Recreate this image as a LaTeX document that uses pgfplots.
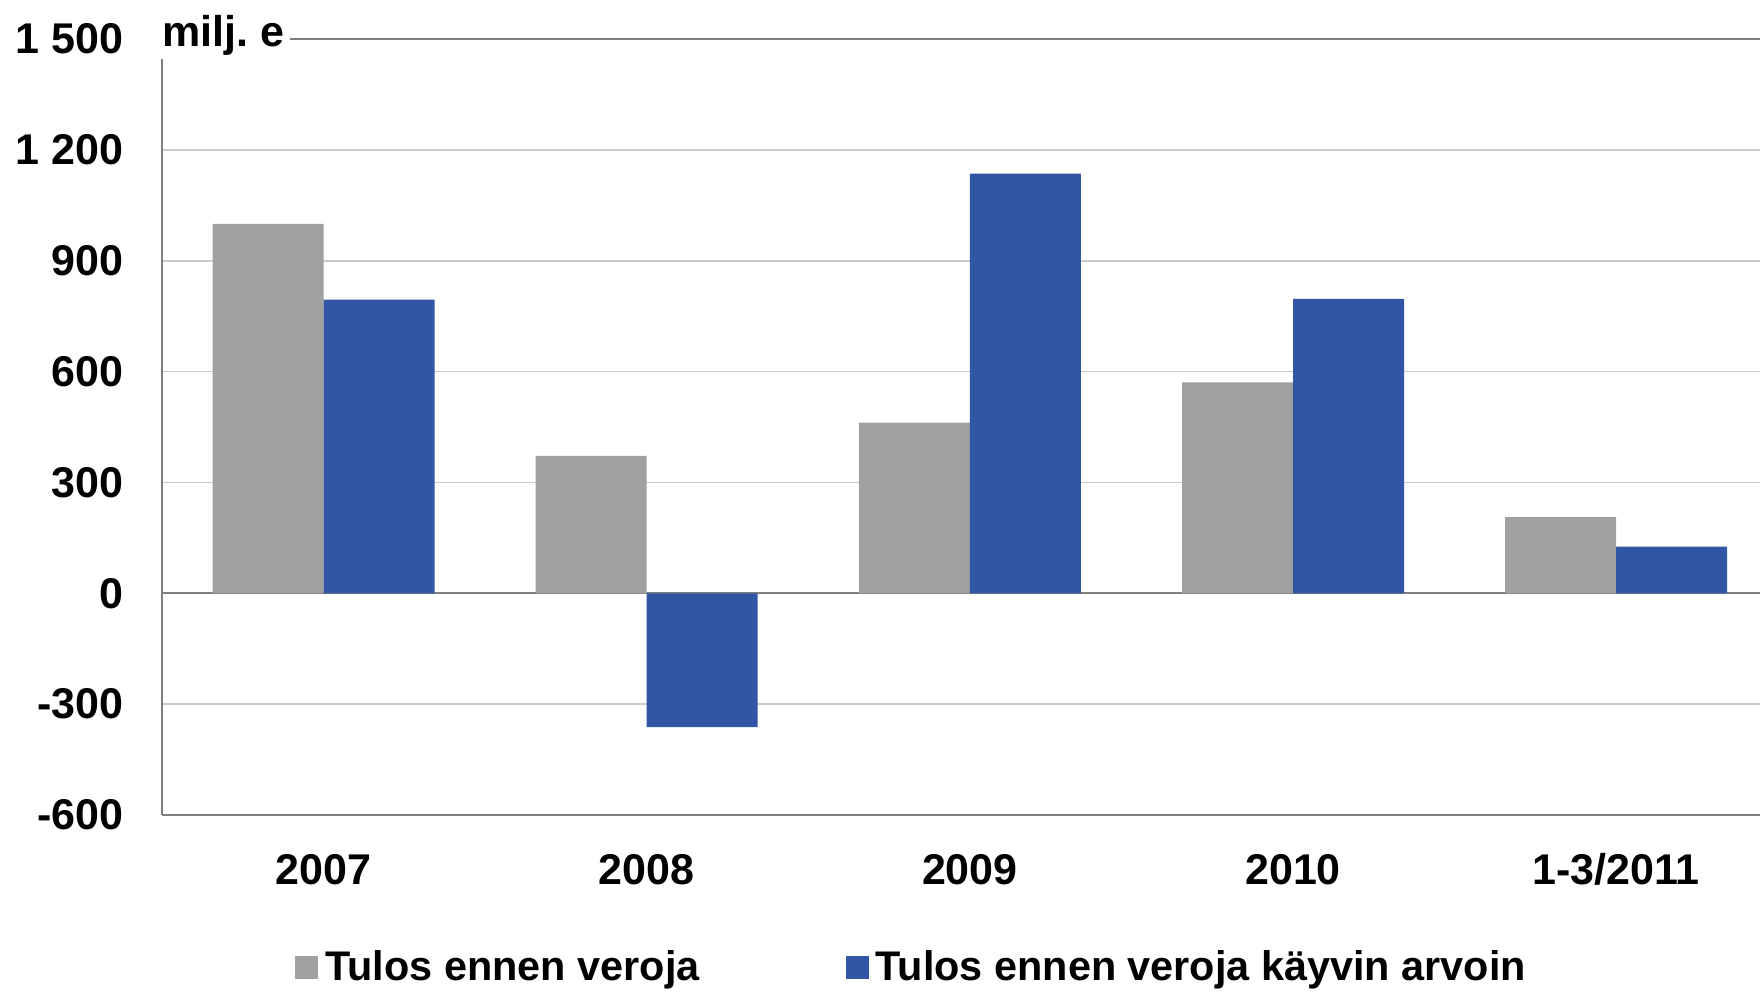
\documentclass[border=0pt]{standalone}
\usepackage{pgfplots}
\pgfplotsset{compat=1.18}
\usepackage{fontspec}
\setmainfont{Liberation Sans}
\definecolor{bargray}{HTML}{A0A0A0}
\definecolor{barblue}{HTML}{3156A5}
\definecolor{gridgray}{HTML}{CACACA}
\definecolor{axisgray}{HTML}{7F7F7F}
\begin{document}
\begin{tikzpicture}
\useasboundingbox (0,0) rectangle (880pt,496pt);
\begin{axis}[
  name=ax,
  at={(81pt,88.5pt)}, anchor=south west,
  scale only axis,
  width=799pt, height=388pt,
  xmin=-0.5, xmax=4.445,
  ymin=-600, ymax=1500,
  ybar=0pt, bar width=55.5pt,
  axis x line=bottom, axis y line=left,
  axis line style={draw=axisgray, line width=1pt, -},
  xtick={0,1,2,3,4},
  xticklabels={2007,2008,2009,2010,1-3/2011},
  ytick={-600,-300,0,300,600,900,1200,1500},
  yticklabels={-600,-300,0,300,600,900,1 200,1 500},
  major tick length=0pt,
  ymajorgrids,
  major grid style={draw=gridgray, line width=0.8pt},
  extra y ticks={0,1500},
  extra y tick labels={,},
  extra y tick style={major grid style={draw=axisgray, line width=1pt}},
  tick label style={font=\bfseries\fontsize{21.5}{25}\selectfont, inner sep=0pt},
  yticklabel style={anchor=east, xshift=-19pt},
  xticklabel style={anchor=base, yshift=-34.5pt},
  legend style={at={(axis description cs:0.0832,-0.196)}, anchor=west,
    draw=none, fill=none, inner sep=0pt, column sep=0pt,
    font=\bfseries\fontsize{20.7}{24}\selectfont,
    nodes={inner sep=0pt, anchor=west},
    /tikz/every odd column/.append style={column sep=3.5pt},
    /tikz/every even column/.append style={column sep=73pt}},
  legend columns=2,
  legend image code/.code={\fill[#1] (0pt,-5.75pt) rectangle (11.5pt,5.75pt);},
]
\addplot[fill=bargray, draw=none] coordinates {(0,1000) (1,372) (2,462) (3,571) (4,206)};
\addplot[fill=barblue, draw=none] coordinates {(0,795) (1,-362) (2,1136) (3,797) (4,126)};
\legend{Tulos ennen veroja, Tulos ennen veroja käyvin arvoin}
\end{axis}
\node[anchor=base west, fill=white, inner xsep=3pt, inner ysep=1.5pt, xshift=-3pt, yshift=-4pt,
  font=\bfseries\fontsize{21.5}{25}\selectfont] at (ax.north west) {milj.\ e};
\end{tikzpicture}
\end{document}
